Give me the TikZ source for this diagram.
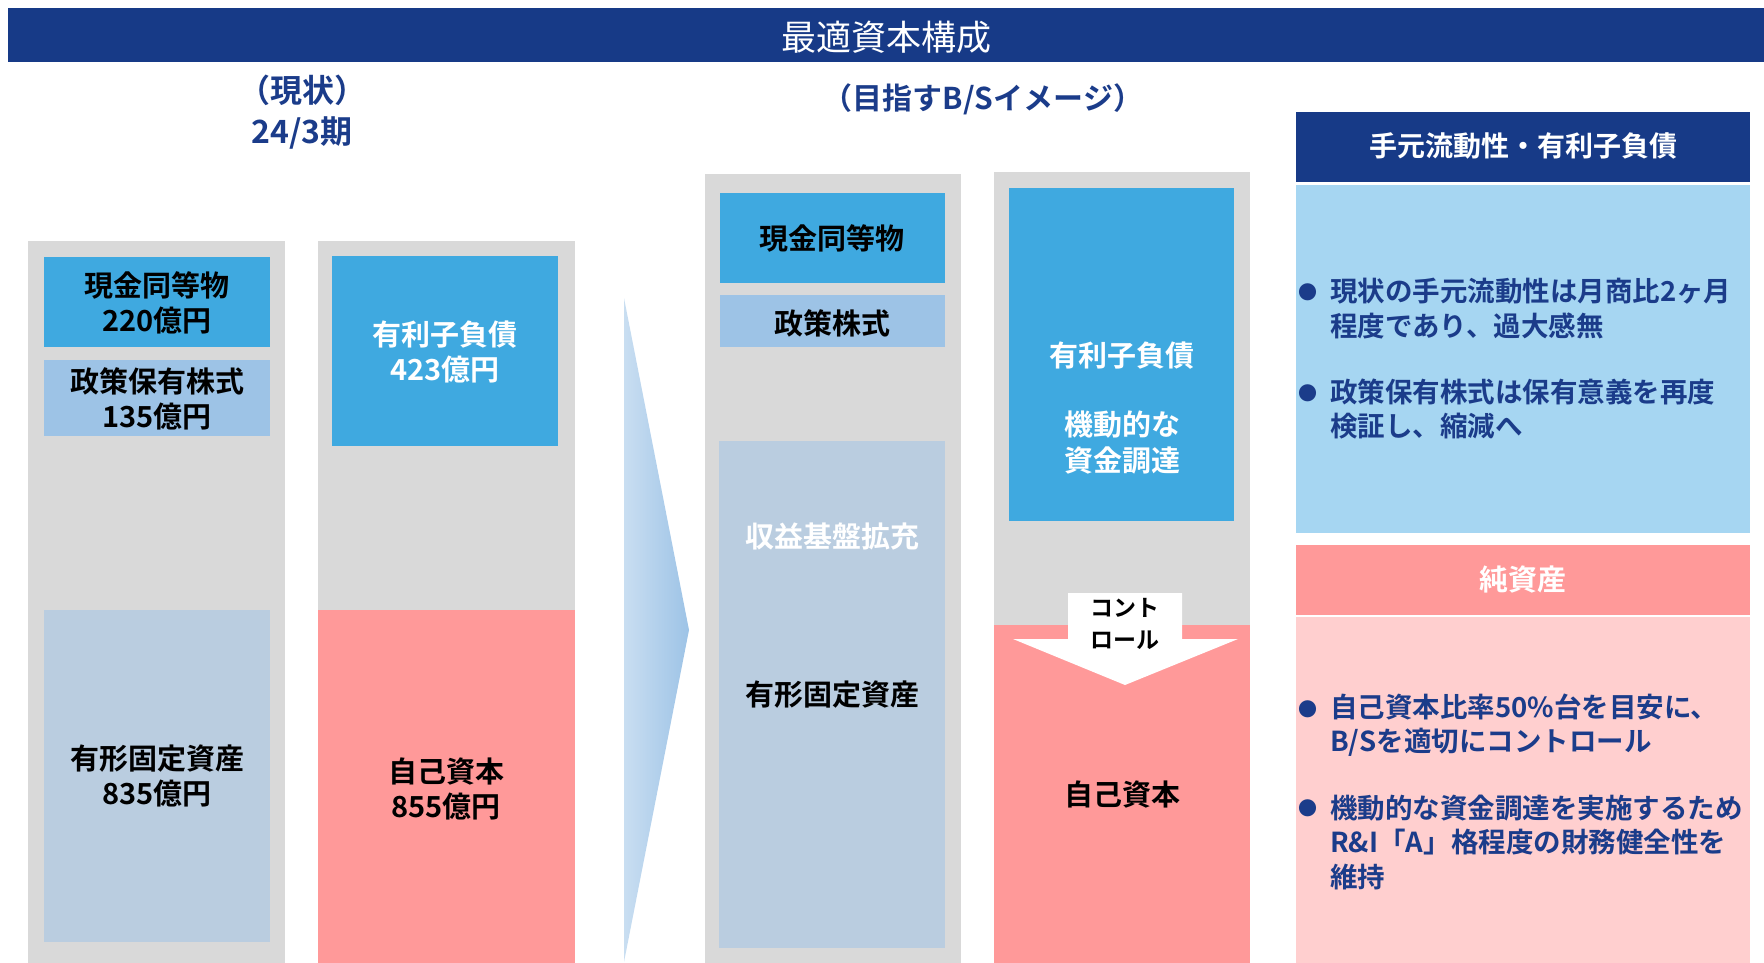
\documentclass[tikz,border=0pt]{standalone}
\usepackage{fontspec}
\setmainfont{Noto Sans CJK JP}[BoldFont={Noto Sans CJK JP Bold}]
\definecolor{navy}{HTML}{173A87}
\definecolor{inkblue}{HTML}{1B3C8A}
\definecolor{skyblue}{HTML}{3FA9E0}
\definecolor{paleblue}{HTML}{9DC3E6}
\definecolor{grayblue}{HTML}{BACDE0}
\definecolor{colgray}{HTML}{D9D9D9}
\definecolor{salmon}{HTML}{FF9999}
\definecolor{palepink}{HTML}{FFCFCF}
\definecolor{panelblue}{HTML}{A6D6F2}

\begin{document}
\begin{tikzpicture}[x=1pt, y=-1pt,
	boxtext/.style={font=\bfseries\fontsize{29}{35}\selectfont, align=center, inner sep=0pt},
	headtext/.style={font=\bfseries\fontsize{30}{41}\selectfont, text=inkblue, align=center, inner sep=0pt},
	pointtext/.style={font=\bfseries\fontsize{27.5}{34.5}\selectfont, text=inkblue, align=left, anchor=west, inner sep=0pt},
	bulletmark/.style={font=\fontsize{19}{20}\selectfont, text=inkblue, inner sep=0pt}]
	\useasboundingbox (0,0) rectangle (1764,963);
	% title bar
	\fill[navy] (8,8) rectangle (1764,62);
	\node[text=white, font=\fontsize{35}{40}\selectfont, inner sep=0pt] (title) at (886,37) {最適資本構成};
	\node[headtext, font=\bfseries\fontsize{32}{41}\selectfont] (nowhead) at (302,112) {（現状）\\24/3期};
	\node[headtext] (aimhead) at (983,99) {（目指すB/Sイメージ）};

	% current B/S
	\fill[colgray] (28,241) rectangle (285,963);
	\fill[colgray] (318,241) rectangle (575,963);
	\fill[skyblue] (44,257) rectangle (270,347);
	\node[boxtext] (cashnow) at (157,303) {現金同等物\\220億円};
	\fill[paleblue] (44,360) rectangle (270,436);
	\node[boxtext] (stocknow) at (157,399) {政策保有株式\\135億円};
	\fill[grayblue] (44,610) rectangle (270,942);
	\node[boxtext] (fixednow) at (157,776) {有形固定資産\\835億円};
	\fill[skyblue] (332,256) rectangle (558,446);
	\node[boxtext, text=white] (debtnow) at (445,352) {有利子負債\\423億円};
	\fill[salmon] (318,610) rectangle (575,963);
	\node[boxtext] (equitynow) at (446,789) {自己資本\\855億円};

	% chevron
	\shade[left color=paleblue!55, right color=paleblue] (624,298) -- (689,630) -- (624,962) -- cycle;

	% target B/S
	\fill[colgray] (705,174) rectangle (961,963);
	\fill[colgray] (994,172) rectangle (1250,963);
	\fill[skyblue] (720,193) rectangle (945,283);
	\node[boxtext] (cashaim) at (832,238) {現金同等物};
	\fill[paleblue] (720,295) rectangle (945,347);
	\node[boxtext] (stockaim) at (832,323) {政策株式};
	\fill[grayblue] (719,441) rectangle (945,948);
	\node[boxtext, text=white] (growth) at (832,537) {収益基盤拡充};
	\node[boxtext] (fixedaim) at (832,695) {有形固定資産};
	\fill[skyblue] (1009,188) rectangle (1234,521);
	\node[boxtext, text=white] (debtaim) at (1122,356) {有利子負債};
	\node[boxtext, text=white, font=\bfseries\fontsize{29}{36}\selectfont] (funding) at (1122,443) {機動的な\\資金調達};
	\fill[salmon] (994,625) rectangle (1250,963);
	\node[boxtext] (equityaim) at (1122,795) {自己資本};
	\fill[white] (1068,593) -- (1182,593) -- (1182,639) -- (1238,639) -- (1125,685) -- (1013,639) -- (1068,639) -- cycle;
	\node[font=\bfseries\fontsize{23}{32}\selectfont, align=center, inner sep=0pt] (control) at (1125,624) {コント\\ロール};

	% right panels
	\fill[navy] (1296,112) rectangle (1750,182);
	\node[text=white, font=\bfseries\fontsize{28}{34}\selectfont, inner sep=0pt] (liqhead) at (1523,146) {手元流動性・有利子負債};
	\fill[panelblue] (1296,185) rectangle (1750,533);
	\node[bulletmark] (liqdot1) at (1308,292) {●};
	\node[pointtext] (liqtext1) at (1330,308.5) {現状の手元流動性は月商比2ヶ月\\程度であり、過大感無};
	\node[bulletmark] (liqdot2) at (1308,393) {●};
	\node[pointtext] (liqtext2) at (1330,409) {政策保有株式は保有意義を再度\\検証し、縮減へ};

	\fill[salmon] (1296,545) rectangle (1750,615);
	\node[text=white, font=\bfseries\fontsize{29}{34}\selectfont, inner sep=0pt] (nethead) at (1523,580) {純資産};
	\fill[palepink] (1296,617) rectangle (1750,963);
	\node[bulletmark] (netdot1) at (1308,709) {●};
	\node[pointtext] (nettext1) at (1330,725) {自己資本比率50\%台を目安に、\\B/Sを適切にコントロール};
	\node[bulletmark] (netdot2) at (1308,808) {●};
	\node[pointtext] (nettext2) at (1330,842) {機動的な資金調達を実施するため\\R\&I「A」格程度の財務健全性を\\維持};
\end{tikzpicture}
\end{document}
